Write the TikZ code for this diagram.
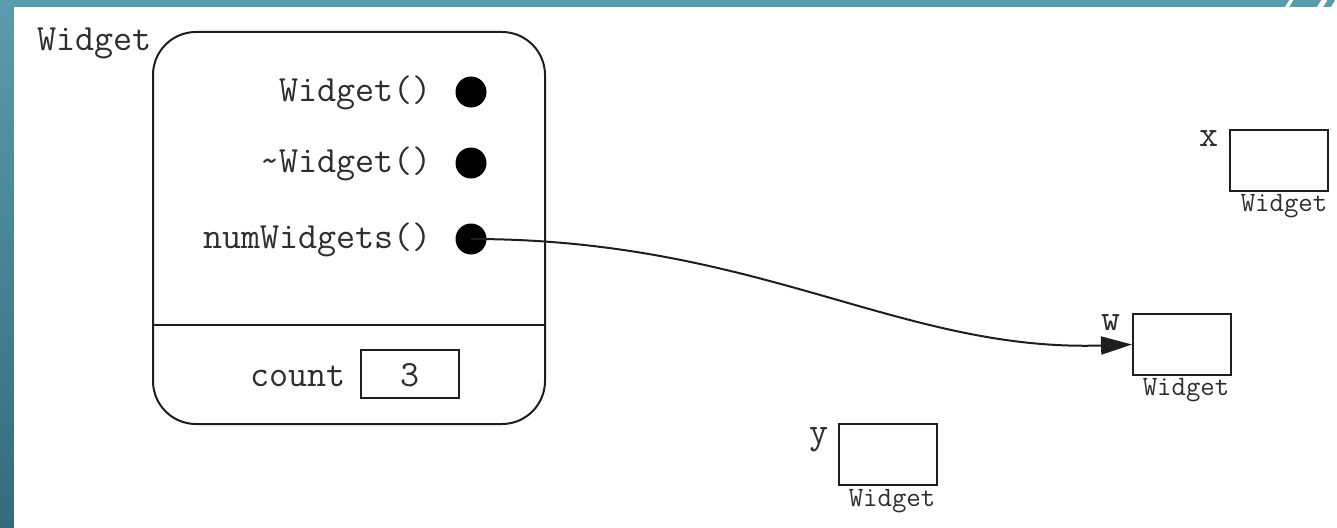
\documentclass[tikz,border=0pt]{standalone}
\usepackage{fontspec}
\usetikzlibrary{arrows.meta}
\definecolor{tealtop}{HTML}{5A9CAE}
\definecolor{tealbot}{HTML}{356A7E}
\definecolor{ink}{HTML}{1E1E1E}
\definecolor{txt}{HTML}{2E2E2E}
\begin{document}
\begin{tikzpicture}[x=1pt,y=-1pt,
  lbl/.style={font=\ttfamily\fontsize{37}{37}\selectfont, text=txt, inner sep=0pt},
  small/.style={font=\ttfamily\fontsize{28}{28}\selectfont, text=txt, inner sep=0pt},
  objbox/.style={draw=ink, line width=2pt, minimum width=98pt, minimum height=61pt, inner sep=0pt},
  dot/.style={circle, fill=black, inner sep=0pt, minimum size=31pt},
  link/.style={draw=ink, line width=2pt, -{Triangle[length=31pt,width=18pt]}}]
\useasboundingbox (0,0) rectangle (1337,527);
% slide background
\shade[top color=tealtop, bottom color=tealbot] (-2,-2) rectangle (1340,530);
\fill[white] (14,7) rectangle (1340,530);
\fill[white] (1285,7) -- (1290,-1) -- (1294,-1) -- (1289,7) -- cycle;
\fill[white] (1317,7) -- (1322,-1) -- (1328,-1) -- (1323,7) -- cycle;
\fill[white] (1331,7) -- (1336,-1) -- (1340,-1) -- (1340,7) -- cycle;
% class box
\node[lbl, anchor=base west] (title) at (37,51) {Widget};
\node[draw=ink, line width=2pt, rounded corners=43pt, minimum width=392pt, minimum height=392pt, inner sep=0pt] (cls) at (349,228) {};
\coordinate (divl) at (153,325);
\coordinate (divr) at (545,325);
\draw[draw=ink, line width=1.6pt] (divl) -- (divr);
\node[lbl, anchor=base east] (m1) at (432,101) {Widget()};
\node[lbl, anchor=base east] (m2) at (432,172) {\char"007EWidget()};
\node[lbl, anchor=base east] (m3) at (432,248) {numWidgets()};
\node[dot] (d1) at (471,92) {};
\node[dot] (d2) at (471,163) {};
\node[dot] (d3) at (471,239) {};
\node[lbl, anchor=base east] (cnt) at (346,386) {count};
\node[draw=ink, line width=2pt, minimum width=98pt, minimum height=48pt, inner sep=0pt] (cbox) at (410,374) {};
\node[lbl, anchor=base] (three) at (410,386) {3};
% objects
\node[objbox] (xb) at (1279,160.5) {};
\node[lbl, anchor=base east] (xl) at (1219,146) {x};
\node[small, anchor=base] (xt) at (1284,211) {Widget};
\node[objbox] (wb) at (1182,344.5) {};
\node[lbl, anchor=base east] (wl) at (1121,330) {w};
\node[small, anchor=base] (wt) at (1186,395) {Widget};
\node[objbox] (yb) at (888,454) {};
\node[lbl, anchor=base east] (yl) at (829,443) {y};
\node[small, anchor=base] (yt) at (892,506) {Widget};
% pointer
\draw[link] (d3.center) .. controls (760,239) and (900,352) .. (wb.west);
\end{tikzpicture}
\end{document}
